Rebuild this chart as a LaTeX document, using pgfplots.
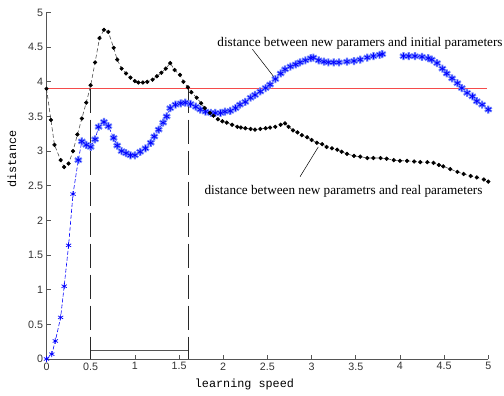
\documentclass[border=0pt]{standalone}
\usepackage{pgfplots}
\pgfplotsset{compat=1.18}
\usepackage{fontspec}
\setmainfont{Liberation Sans}
\newfontfamily\seriffont{Liberation Serif}
\newfontfamily\monofont{Liberation Mono}
\definecolor{axgray}{RGB}{85,85,85}
\definecolor{myred}{RGB}{245,75,75}
\definecolor{halo}{RGB}{110,130,255}
\definecolor{vgray}{RGB}{40,40,40}
\begin{document}
\begin{tikzpicture}
\begin{axis}[
  scale only axis, width=441.8pt, height=346.5pt,
  xmin=0, xmax=5, ymin=0, ymax=5,
  axis x line*=bottom, axis y line*=left,
  axis line style={axgray, line width=0.7pt},
  xtick={0,0.5,1,1.5,2,2.5,3,3.5,4,4.5,5},
  ytick={0,0.5,1,1.5,2,2.5,3,3.5,4,4.5,5},
  tick align=inside, major tick length=4pt,
  tick style={axgray, line width=0.7pt},
  ticklabel style={font=\fontsize{10.7}{12}\selectfont, text=black!80},
  /pgf/number format/assume math mode=true,
  clip=false,
  xlabel={learning speed}, ylabel={distance},
  xlabel style={font=\monofont\fontsize{11.8}{13}\selectfont, at={(axis description cs:0.448,-0.0823)}, anchor=base},
  ylabel style={font=\monofont\fontsize{11.8}{13}\selectfont, at={(axis description cs:-0.078,0.577)}, anchor=center},
]
\coordinate (BL) at (rel axis cs:0,0);
\coordinate (TR) at (rel axis cs:1,1);
% red reference line
\addplot[myred, line width=0.8pt] coordinates {(0,3.9) (4.985,3.9)};
% vertical dashed lines and bracket
\addplot[vgray, line width=0.7pt, dash pattern=on 24pt off 7pt] coordinates {(0.5,3.9) (0.5,0)};
\addplot[vgray, line width=0.7pt, dash pattern=on 24pt off 7pt] coordinates {(1.6,3.9) (1.6,0)};
\addplot[axgray, line width=0.6pt] coordinates {(0.5,0.12) (1.6,0.12)};
% blue halo
\addplot[halo, only marks, mark=asterisk, mark size=4pt, mark options={line width=2.2pt}] coordinates {
(0.36,2.87)(0.4,3.14)(0.45,3.09)(0.5,3.06)(0.55,3.17)(0.59,3.35)(0.65,3.42)(0.7,3.36)(0.76,3.19)(0.8,3.08)(0.85,3.0)(0.9,2.97)(0.95,2.94)(1.0,2.94)(1.06,2.99)(1.12,3.04)(1.18,3.12)(1.22,3.21)(1.27,3.31)(1.32,3.41)(1.36,3.50)(1.40,3.62)(1.46,3.67)(1.52,3.69)(1.57,3.70)(1.63,3.68)(1.69,3.64)(1.74,3.60)(1.80,3.57)(1.86,3.55)(1.91,3.55)(1.97,3.55)(2.02,3.57)(2.08,3.58)(2.14,3.62)(2.19,3.67)(2.25,3.71)(2.31,3.77)(2.36,3.81)(2.42,3.86)(2.48,3.91)(2.53,3.96)(2.59,4.04)(2.65,4.12)(2.70,4.18)(2.76,4.22)(2.82,4.25)(2.87,4.28)(2.93,4.31)(2.99,4.34)(3.02,4.35)(3.08,4.31)(3.14,4.29)(3.19,4.28)(3.25,4.28)(3.31,4.28)(3.40,4.29)(3.48,4.30)(3.55,4.32)(3.63,4.35)(3.70,4.37)(3.77,4.39)(3.80,4.40)
(4.04,4.37)(4.10,4.37)(4.17,4.37)(4.25,4.36)(4.32,4.34)(4.36,4.32)(4.42,4.27)(4.48,4.19)(4.53,4.12)(4.59,4.05)(4.65,3.98)(4.70,3.91)(4.76,3.84)(4.82,3.79)(4.87,3.72)(4.93,3.67)(5.0,3.60)};
% blue main series
\addplot[blue, dash pattern=on 4pt off 2pt, line width=0.6pt, mark=asterisk, mark size=3pt, mark options={solid, line width=0.7pt}] coordinates {
(0,0)(0.06,0.07)(0.1,0.26)(0.16,0.6)(0.2,1.05)(0.25,1.64)(0.3,2.38)(0.36,2.87)(0.4,3.14)(0.45,3.09)(0.5,3.06)(0.55,3.17)(0.59,3.35)(0.65,3.42)(0.7,3.36)(0.76,3.19)(0.8,3.08)(0.85,3.0)(0.9,2.97)(0.95,2.94)(1.0,2.94)(1.06,2.99)(1.12,3.04)(1.18,3.12)(1.22,3.21)(1.27,3.31)(1.32,3.41)(1.36,3.50)(1.40,3.62)(1.46,3.67)(1.52,3.69)(1.57,3.70)(1.63,3.68)(1.69,3.64)(1.74,3.60)(1.80,3.57)(1.86,3.55)(1.91,3.55)(1.97,3.55)(2.02,3.57)(2.08,3.58)(2.14,3.62)(2.19,3.67)(2.25,3.71)(2.31,3.77)(2.36,3.81)(2.42,3.86)(2.48,3.91)(2.53,3.96)(2.59,4.04)(2.65,4.12)(2.70,4.18)(2.76,4.22)(2.82,4.25)(2.87,4.28)(2.93,4.31)(2.99,4.34)(3.02,4.35)(3.08,4.31)(3.14,4.29)(3.19,4.28)(3.25,4.28)(3.31,4.28)(3.40,4.29)(3.48,4.30)(3.55,4.32)(3.63,4.35)(3.70,4.37)(3.77,4.39)(3.80,4.40)};
\addplot[blue, line width=0.6pt, mark=asterisk, mark size=3pt, mark options={solid, line width=0.7pt}] coordinates {
(4.04,4.37)(4.10,4.37)(4.17,4.37)(4.25,4.36)(4.32,4.34)(4.36,4.32)(4.42,4.27)(4.48,4.19)(4.53,4.12)(4.59,4.05)(4.65,3.98)(4.70,3.91)(4.76,3.84)(4.82,3.79)(4.87,3.72)(4.93,3.67)(5.0,3.60)};
% black series
\addplot[black!70, dash pattern=on 4pt off 2.5pt, line width=0.6pt, mark=*, mark size=1.8pt, mark options={solid, black}] coordinates {
(0,3.9)(0.05,3.45)(0.09,3.09)(0.16,2.87)(0.2,2.77)(0.25,2.82)(0.3,3.0)(0.35,3.24)(0.4,3.47)(0.45,3.70)(0.5,3.95)(0.55,4.28)(0.6,4.63)(0.65,4.75)(0.7,4.72)(0.76,4.49)(0.8,4.32)(0.85,4.19)(0.9,4.12)(0.95,4.06)(1.0,4.01)(1.04,3.99)(1.09,3.99)(1.14,4.0)(1.2,4.03)(1.25,4.08)(1.30,4.13)(1.35,4.19)(1.40,4.27)(1.45,4.17)(1.51,4.10)(1.55,4.0)(1.6,3.92)(1.64,3.85)(1.70,3.77)(1.75,3.69)(1.79,3.62)(1.85,3.55)(1.89,3.51)(1.94,3.46)(1.99,3.43)(2.04,3.41)(2.1,3.38)(2.16,3.35)(2.2,3.34)(2.25,3.33)(2.31,3.32)(2.36,3.31)(2.42,3.32)(2.48,3.33)(2.53,3.34)(2.59,3.35)(2.65,3.38)(2.70,3.40)(2.74,3.35)(2.79,3.30)(2.84,3.27)(2.89,3.23)(2.95,3.20)(3.0,3.16)(3.06,3.12)(3.12,3.10)(3.17,3.06)(3.23,3.04)(3.29,3.02)(3.34,2.99)(3.40,2.96)(3.48,2.93)(3.55,2.92)(3.63,2.90)(3.70,2.90)(3.78,2.90)(3.85,2.89)(3.93,2.87)(4.0,2.86)(4.08,2.86)(4.16,2.85)(4.23,2.84)(4.31,2.84)(4.38,2.83)(4.44,2.80)(4.49,2.78)(4.57,2.74)(4.65,2.70)(4.72,2.67)(4.80,2.64)(4.87,2.62)(4.95,2.59)(5.0,2.56)};
% annotations
\draw[black, line width=0.5pt] (axis cs:2.33,4.47) -- (axis cs:2.586,4.05);
\draw[black, line width=0.5pt] (axis cs:2.869,2.63) -- (axis cs:3.076,3.06);
\node[font=\seriffont\fontsize{13.2}{15}\selectfont, anchor=base, inner sep=0pt] at (axis cs:3.548,4.507) {distance between new paramers and initial parameters};
\node[font=\seriffont\fontsize{13.2}{15}\selectfont, anchor=base, inner sep=0pt] at (axis cs:3.361,2.367) {distance between new parametrs and real parameters};
\end{axis}
\pgfresetboundingbox
\path[use as bounding box] ([xshift=-46.5pt,yshift=-36pt]BL) rectangle ([xshift=15.7pt,yshift=12.5pt]TR);
\end{tikzpicture}
\end{document}
